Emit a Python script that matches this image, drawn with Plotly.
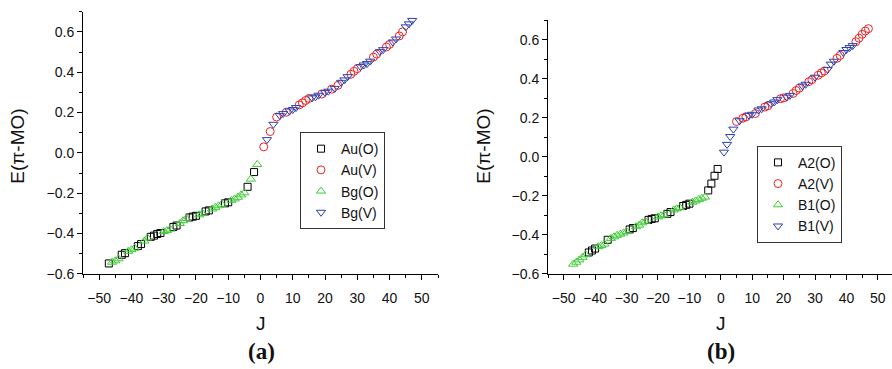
import plotly.graph_objects as go

# ---------------- Panel (a) ----------------
a_occ_J = list(range(-47, 0))
a_occ_E = [-0.548, -0.542, -0.535, -0.525, -0.505, -0.497, -0.488, -0.480, -0.472, -0.462,
           -0.452, -0.437, -0.422, -0.416, -0.410, -0.402, -0.397, -0.390, -0.385, -0.378,
           -0.367, -0.360, -0.350, -0.336, -0.325, -0.320, -0.316, -0.312, -0.307, -0.300,
           -0.290, -0.285, -0.278, -0.270, -0.262, -0.255, -0.250, -0.245, -0.235, -0.228,
           -0.220, -0.208, -0.198, -0.168, -0.130, -0.095, -0.057]
a_occ_sym = "ABBBAABBBAABBAAAABBBAABBBAAABBAABBBBAABBBBBABAB"

a_vir_J = list(range(1, 48))
a_vir_E = [0.030, 0.066, 0.106, 0.142, 0.178, 0.185, 0.195, 0.202, 0.208, 0.215,
           0.225, 0.238, 0.248, 0.260, 0.270, 0.273, 0.278, 0.286, 0.292, 0.300,
           0.306, 0.316, 0.320, 0.335, 0.350, 0.362, 0.378, 0.390, 0.405, 0.418,
           0.428, 0.436, 0.443, 0.455, 0.475, 0.490, 0.502, 0.512, 0.525, 0.538,
           0.550, 0.565, 0.580, 0.600, 0.625, 0.640, 0.657]
a_vir_sym = "ABABABBABBBAAAABBBABBABABBBAAABBBBAABBAABBAABBB"

# ---------------- Panel (b) ----------------
b_occ_J = list(range(-47, 0))
b_occ_E = [-0.550, -0.540, -0.528, -0.515, -0.502, -0.490, -0.480, -0.470, -0.460, -0.455,
           -0.447, -0.425, -0.418, -0.410, -0.402, -0.396, -0.390, -0.383, -0.372, -0.365,
           -0.358, -0.350, -0.338, -0.330, -0.323, -0.318, -0.315, -0.308, -0.302, -0.297,
           -0.292, -0.283, -0.272, -0.266, -0.260, -0.252, -0.246, -0.240, -0.232, -0.226,
           -0.218, -0.212, -0.206, -0.172, -0.137, -0.097, -0.062]
b_occ_sym = "BBBBBAAABBBABBBBBBAABBBBAAABBBAABBBAAABBBBBAAAA"

b_vir_J = list(range(1, 48))
b_vir_E = [0.024, 0.064, 0.104, 0.142, 0.181, 0.185, 0.198, 0.205, 0.213, 0.218,
           0.222, 0.240, 0.246, 0.255, 0.262, 0.272, 0.281, 0.293, 0.298, 0.302,
           0.306, 0.315, 0.325, 0.340, 0.352, 0.363, 0.372, 0.385, 0.395, 0.408,
           0.418, 0.430, 0.440, 0.448, 0.475, 0.490, 0.505, 0.520, 0.535, 0.550,
           0.560, 0.570, 0.590, 0.608, 0.628, 0.645, 0.657]
b_vir_sym = "BBBBABAABBABBAABBBAABBAAABBAABAAABBBAABBBBAAAAA"

names_a = ["Au(O)", "Au(V)", "Bg(O)", "Bg(V)"]
names_b = ["A2(O)", "A2(V)", "B1(O)", "B1(V)"]

def split(J, E, sym, s):
    xs = [j for j, c in zip(J, sym) if c == s]
    ys = [e for e, c in zip(E, sym) if c == s]
    return xs, ys

styles = [
    dict(symbol="square-open", color="#000000", size=7),
    dict(symbol="circle-open", color="#ee2222", size=8),
    dict(symbol="triangle-up-open", color="#3ccc33", size=8),
    dict(symbol="triangle-down-open", color="#2a3fb0", size=8),
]

fig = go.Figure()

def add_panel(occJ, occE, occS, virJ, virE, virS, names, xa, ya, leg):
    series = [split(occJ, occE, occS, "A"), split(virJ, virE, virS, "A"),
              split(occJ, occE, occS, "B"), split(virJ, virE, virS, "B")]
    for (xs, ys), nm, st in zip(series, names, styles):
        fig.add_trace(go.Scatter(
            x=xs, y=ys, mode="markers", name=nm, xaxis=xa, yaxis=ya, legend=leg,
            marker=dict(symbol=st["symbol"], size=st["size"], color=st["color"],
                        line=dict(width=1, color=st["color"])),
        ))

add_panel(a_occ_J, a_occ_E, a_occ_sym, a_vir_J, a_vir_E, a_vir_sym, names_a, "x", "y", "legend")
add_panel(b_occ_J, b_occ_E, b_occ_sym, b_vir_J, b_vir_E, b_vir_sym, names_b, "x2", "y2", "legend2")

W, H = 892, 369
SANS = "Arial, Liberation Sans, Helvetica, sans-serif"
tickfont = dict(family=SANS, size=14, color="#111111")

def xaxis(dom, rng, anchor):
    return dict(domain=dom, range=rng, anchor=anchor, showgrid=False, zeroline=False,
                showline=True, linecolor="black", linewidth=1,
                tickmode="array", tickvals=list(range(-50, 51, 10)),
                ticks="outside", ticklen=5, tickcolor="black", tickfont=tickfont,
                ticklabelstandoff=6,
                minor=dict(ticks="outside", ticklen=3, tickcolor="black", dtick=5, tick0=0))

def yaxis(dom, anchor):
    return dict(domain=dom, range=[-0.6, 0.7], anchor=anchor, showgrid=False, zeroline=False,
                showline=True, linecolor="black", linewidth=1,
                dtick=0.2, tick0=0, tickformat=".1f",
                ticks="outside", ticklen=5, tickcolor="black", tickfont=tickfont,
                minor=dict(ticks="outside", ticklen=3, tickcolor="black", dtick=0.1, tick0=0))

fig.update_layout(
    width=W, height=H,
    margin=dict(l=0, r=0, t=0, b=0),
    paper_bgcolor="white", plot_bgcolor="white",
    xaxis=xaxis([83 / W, 438 / W], [-55, 55], "y"),
    yaxis=yaxis([1 - 280 / H, 1 - 12 / H], "x"),
    xaxis2=xaxis([548 / W, 1.0], [-55, 54.5], "y2"),
    yaxis2=yaxis([1 - 280 / H, 1 - 20.7 / H], "x2"),
    legend=dict(x=300 / W, y=1 - 135 / H, xanchor="left", yanchor="top",
                bordercolor="#333333", borderwidth=1, bgcolor="white",
                font=dict(family=SANS, size=14, color="#111111"),
                tracegroupgap=0),
    legend2=dict(x=757 / W, y=1 - 149 / H, xanchor="left", yanchor="top",
                 bordercolor="#333333", borderwidth=1, bgcolor="white",
                 font=dict(family=SANS, size=14, color="#111111"),
                 tracegroupgap=0),
    showlegend=True,
)

title_font = dict(family=SANS, size=19, color="#111111")
label_font = dict(family="Liberation Serif, Times New Roman, serif", size=23, color="#111111")
ann = []
for cx in (18, 484):
    ann.append(dict(x=cx / W, y=1 - 150 / H, xref="paper", yref="paper", text="E(π-MO)",
                    textangle=-90, showarrow=False, font=title_font, xanchor="center", yanchor="middle"))
for cx, lab in [(261, "(a)"), (721, "(b)")]:
    ann.append(dict(x=cx / W, y=1 - 331 / H, xref="paper", yref="paper", text="J",
                    showarrow=False, font=title_font, xanchor="center", yanchor="middle"))
    ann.append(dict(x=cx / W, y=1 - 359 / H, xref="paper", yref="paper", text="<b>%s</b>" % lab,
                    showarrow=False, font=label_font, xanchor="center", yanchor="middle"))
fig.update_layout(annotations=ann)

fig.write_html("out.html")
